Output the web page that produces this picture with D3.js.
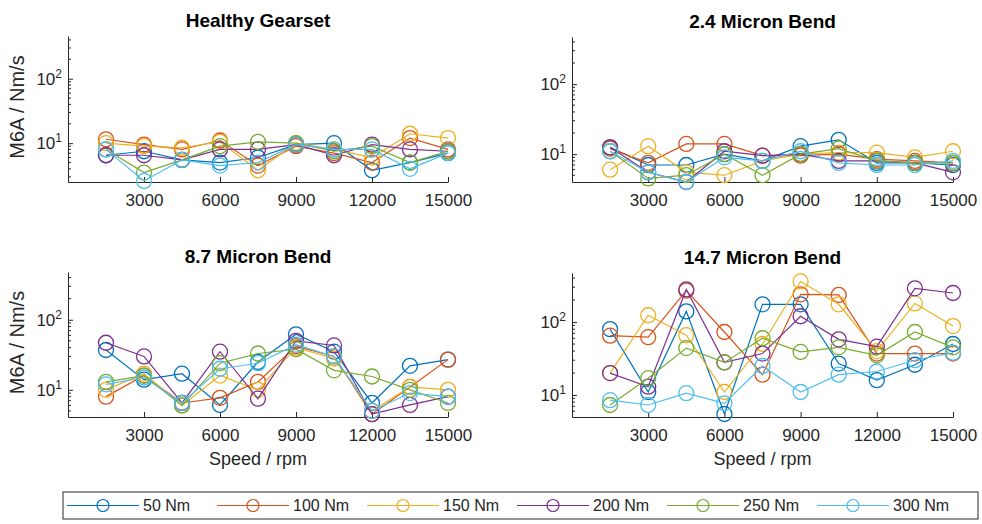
<!DOCTYPE html>
<html>
<head>
<meta charset="utf-8">
<script src="https://cdn.jsdelivr.net/npm/d3@7/dist/d3.min.js"></script>
<style>
  html, body { margin: 0; padding: 0; background: #fff; }
  svg { display: block; font-family: "Liberation Sans", Arial, Helvetica, sans-serif; }
</style>
</head>
<body>
<script>
// Shaft speeds (rpm) at which M6A was measured
const speeds = [1500, 3000, 4500, 6000, 7500, 9000, 10500, 12000, 13500, 15000];
// Load cases, one line each
const loads = ["50 Nm", "100 Nm", "150 Nm", "200 Nm", "250 Nm", "300 Nm"];
const loadColors = ["#0072BD", "#D95319", "#EDB120", "#7E2F8E", "#77AC30", "#4DBEEE"];
const panelTitles = ["Healthy Gearset", "2.4 Micron Bend", "8.7 Micron Bend", "14.7 Micron Bend"];
const xTickValues = [3000, 6000, 9000, 12000, 15000];
const yTickValues = [10, 100];

// M6A (Nm/s) per load (rows) and speed (columns)
const healthyGearset = [
  [6.5, 7.5, 5.5, 5, 6, 9.5, 10, 3.8, 5, 7],
  [11.5, 9.5, 8, 11, 4.5, 9, 7, 5, 12, 8],
  [10, 9, 8.5, 10.5, 3.8, 10, 8, 6, 14, 12],
  [6.5, 6.5, 5.5, 8, 8, 9.5, 6.5, 9.5, 8, 7.5],
  [8, 3.5, 5.5, 9, 10.5, 10, 7.5, 9, 5, 7.5],
  [8, 2.6, 5.5, 4.5, 5, 9.5, 8, 8, 4, 7]
];
const bend2p4 = [
  [12.5, 7, 7, 10, 8, 13, 16, 7.5, 7.5, 7],
  [12, 7.5, 14, 14, 9.5, 9.5, 10, 8.5, 8, 7.5],
  [6, 13, 5.5, 5, 8, 10, 10.5, 10.5, 9, 11],
  [12.5, 5.5, 4, 11, 9.5, 10, 8, 8, 7.5, 5.5],
  [11, 4.5, 5, 10, 5, 10, 12, 8, 7.5, 7.5],
  [11, 5.5, 4, 9, 8, 11, 7.5, 7, 7, 8]
];
const bend8p7 = [
  [37, 14, 17, 6.1, 25, 62, 35, 6.5, 22, 27],
  [8, 16, 6.5, 7.7, 13, 42, 30, 4.5, 11, 27],
  [10, 17, 6, 16, 10, 40, 28, 5, 11, 10],
  [47, 30, 6.5, 35, 7.5, 50, 43, 4.5, 6.1, 8],
  [13, 16, 6, 24, 33, 38, 19, 15.5, 10, 6.5],
  [12, 15, 6.5, 20, 24, 44, 30, 5, 9, 8]
];
const bend14p7 = [
  [80, 11, 140, 5.5, 175, 175, 27, 16, 26, 50],
  [65, 62, 270, 73, 19, 240, 235, 37, 37, 37],
  [20, 124, 66, 11, 50, 360, 175, 40, 180, 88],
  [20, 13, 280, 28, 37, 120, 58, 46, 290, 250],
  [7.3, 17, 44, 28, 60, 39, 45, 35, 73, 45],
  [8.5, 7.3, 10.6, 7.7, 25, 11, 19, 21, 30, 38]
];

const W = 982, H = 524;
const axisColor = "#262626";

const svg = d3.select("body").append("svg")
  .attr("width", W).attr("height", H)
  .attr("viewBox", `0 0 ${W} ${H}`);

const panels = [
  { title: panelTitles[0], data: healthyGearset, x0: 68,  x1: 448, y0: 36,  y1: 182, yDomain: [2.5, 460], yLabel: true,  xLabel: false },
  { title: panelTitles[1], data: bend2p4,        x0: 572, x1: 953, y0: 37,  y1: 182, yDomain: [4, 470],   yLabel: false, xLabel: false },
  { title: panelTitles[2], data: bend8p7,        x0: 68,  x1: 448, y0: 272, y1: 417, yDomain: [4.1, 480], yLabel: true,  xLabel: true },
  { title: panelTitles[3], data: bend14p7,       x0: 572, x1: 953, y0: 273, y1: 417, yDomain: [5, 470],   yLabel: false, xLabel: true }
];

panels.forEach(p => {
  const g = svg.append("g");
  const x = d3.scaleLinear().domain([0, 15000]).range([p.x0, p.x1]);
  const y = d3.scaleLog().domain(p.yDomain).range([p.y1, p.y0]);

  // x axis (ticks pointing inward)
  const xAxis = g.append("g")
    .attr("transform", `translate(0,${p.y1})`)
    .call(d3.axisBottom(x).tickValues(xTickValues).tickSizeInner(-5).tickSizeOuter(0).tickPadding(12).tickFormat(d3.format("d")));
  xAxis.select(".domain").attr("stroke", axisColor);
  xAxis.selectAll(".tick line").attr("stroke", axisColor);
  xAxis.selectAll(".tick text").attr("fill", axisColor).attr("font-size", 17)
    .attr("font-family", "'Liberation Sans', Arial, sans-serif");

  // y axis: major decades with inward ticks
  const yAxis = g.append("g")
    .attr("transform", `translate(${p.x0},0)`)
    .call(d3.axisLeft(y).tickValues(yTickValues).tickSizeInner(-5).tickSizeOuter(0).tickFormat(() => ""));
  yAxis.select(".domain").attr("stroke", axisColor);
  yAxis.selectAll(".tick line").attr("stroke", axisColor);

  // minor log ticks
  const minor = [];
  for (let dec = 1; dec <= 100; dec *= 10) {
    for (let m = 2; m <= 9; m++) {
      const v = m * dec;
      if (v > p.yDomain[0] && v < p.yDomain[1]) minor.push(v);
    }
  }
  g.selectAll(null).data(minor).enter().append("line")
    .attr("x1", p.x0).attr("x2", p.x0 + 3)
    .attr("y1", d => y(d)).attr("y2", d => y(d))
    .attr("stroke", axisColor).attr("stroke-width", 1);

  // decade labels with superscript exponents
  const lab = g.selectAll(null).data(yTickValues).enter().append("text")
    .attr("x", p.x0 - 6).attr("y", d => y(d) + 6)
    .attr("text-anchor", "end").attr("fill", axisColor).attr("font-size", 17);
  lab.append("tspan").text("10");
  lab.append("tspan").attr("dy", -7).attr("font-size", 12).text(d => Math.round(Math.log10(d)));

  // title
  g.append("text")
    .attr("x", (p.x0 + p.x1) / 2).attr("y", p.y0 - 9)
    .attr("text-anchor", "middle").attr("font-weight", "bold")
    .attr("font-size", 19).attr("fill", "#000")
    .text(p.title);

  if (p.yLabel) {
    g.append("text")
      .attr("transform", `translate(24,${(p.y0 + p.y1) / 2 - 2}) rotate(-90)`)
      .attr("text-anchor", "middle").attr("font-size", 20).attr("fill", axisColor)
      .text("M6A / Nm/s");
  }
  if (p.xLabel) {
    g.append("text")
      .attr("x", (p.x0 + p.x1) / 2).attr("y", p.y1 + 48)
      .attr("text-anchor", "middle").attr("font-size", 18).attr("fill", axisColor)
      .text("Speed / rpm");
  }

  // series: lines with hollow circle markers
  const line = d3.line().x((d, i) => x(speeds[i])).y(d => y(d));
  p.data.forEach((vals, k) => {
    const s = g.append("g");
    s.append("path").attr("d", line(vals))
      .attr("fill", "none").attr("stroke", loadColors[k]).attr("stroke-width", 1.2);
    s.selectAll(null).data(vals).enter().append("circle")
      .attr("cx", (d, i) => x(speeds[i])).attr("cy", d => y(d)).attr("r", 7.5)
      .attr("fill", "none").attr("stroke", loadColors[k]).attr("stroke-width", 1.3);
  });
});

// legend
const legend = svg.append("g");
legend.append("rect")
  .attr("x", 63).attr("y", 492).attr("width", 915).attr("height", 27)
  .attr("fill", "#fff").attr("stroke", axisColor).attr("stroke-width", 1);
const item = legend.selectAll(null).data(loads).enter().append("g")
  .attr("transform", (d, i) => `translate(${103 + 150 * i},505.5)`);
item.append("line").attr("x1", -36).attr("x2", 36)
  .attr("stroke", (d, i) => loadColors[i]).attr("stroke-width", 1.2);
item.append("circle").attr("r", 6)
  .attr("fill", "none").attr("stroke", (d, i) => loadColors[i]).attr("stroke-width", 1.2);
item.append("text").attr("x", 40).attr("y", 5.5)
  .attr("font-size", 16).attr("fill", axisColor)
  .text(d => d);
</script>
</body>
</html>
